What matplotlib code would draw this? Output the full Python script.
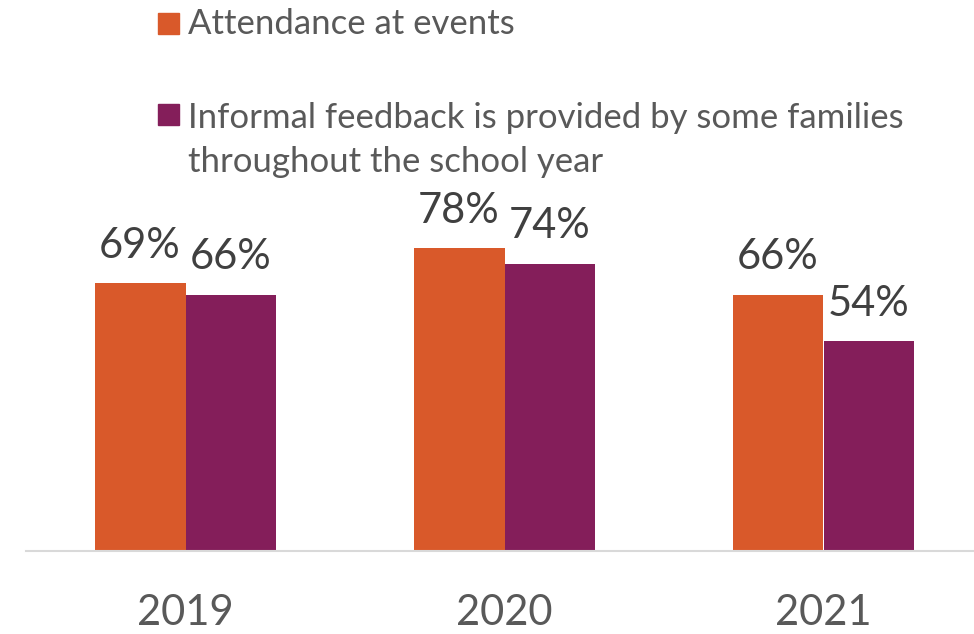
import numpy as np
import matplotlib.pyplot as plt
from matplotlib.patches import Rectangle

# datos
years = ['2019', '2020', '2021']
attendance = [69, 78, 66]
feedback = [66, 74, 54]
series_names = ['Attendance at events',
                'Informal feedback is provided by some families\nthroughout the school year']

c_orange = '#D9592A'
c_purple = '#841E5A'
c_text = '#595959'
c_label = '#404040'

plt.rcParams['font.family'] = ['Lato', 'DejaVu Sans']

fig = plt.figure(figsize=(9.74, 6.34), dpi=100)
W, H = 974, 634
# ejes: linea base en y=551 px, 100% = 388 px
ax = fig.add_axes([26 / W, (H - 551) / H, 948 / W, 388 / H])

x = np.arange(len(years))
w = 0.285
b1 = ax.bar(x - w / 2, attendance, w, color=c_orange)
b2 = ax.bar(x + w / 2, feedback, w, color=c_purple)

for bars in (b1, b2):
    for r in bars:
        ax.annotate(f'{r.get_height():.0f}%',
                    (r.get_x() + r.get_width() / 2, r.get_height()),
                    xytext=(0, 18.5), textcoords='offset points',
                    ha='center', va='baseline', fontsize=30, color=c_label)

ax.set_xlim(-0.5, (948 / 319) - 0.5)
ax.set_ylim(0, 100)
ax.set_xticks(x)
ax.set_xticklabels(years, fontsize=30, color=c_text)
ax.tick_params(axis='x', length=0, pad=31)
ax.set_yticks([])
for s in ['top', 'right', 'left']:
    ax.spines[s].set_visible(False)
ax.spines['bottom'].set_color('#D9D9D9')
ax.spines['bottom'].set_linewidth(1.5)
ax.patch.set_alpha(0)

# leyenda manual (cuadro + texto), coordenadas en pixeles
leg_colors = [c_orange, c_purple]
leg_base = [34, 125]   # linea base de la primera linea de cada entrada
line_gap = 47
for name, col, yb in zip(series_names, leg_colors, leg_base):
    fig.patches.append(Rectangle((158 / W, (H - yb) / H), 21 / W, 21 / H,
                                 transform=fig.transFigure, color=col))
    n_lines = name.count('\n')
    y_last = yb + n_lines * line_gap
    fig.text(188 / W, (H - y_last) / H, name, fontsize=25, color=c_text,
             ha='left', va='baseline', linespacing=1.45)

fig.savefig('out.png', dpi=100)
